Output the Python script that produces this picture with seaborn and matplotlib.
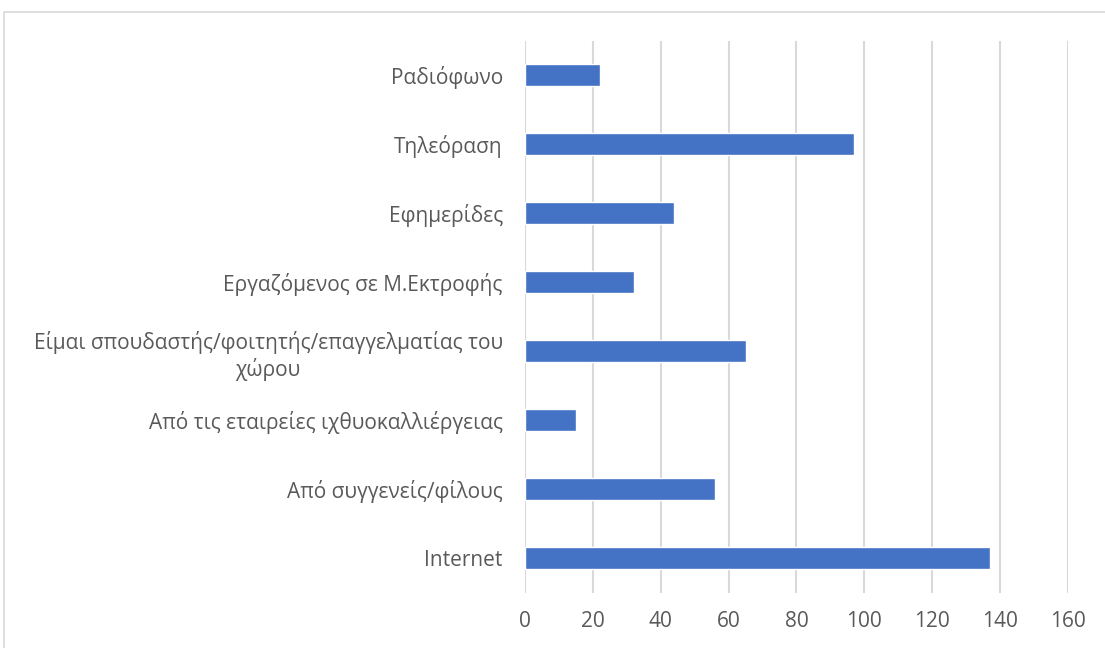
import matplotlib
matplotlib.use("Agg")
import matplotlib.pyplot as plt
import seaborn as sns
import pandas as pd
from matplotlib.patches import Rectangle

# Sources of information (top to bottom) and number of responses
sources = [
    "Ραδιόφωνο",
    "Τηλεόραση",
    "Εφημερίδες",
    "Εργαζόμενος σε Μ.Εκτροφής",
    "Είμαι σπουδαστής/φοιτητής/επαγγελματίας του\nχώρου",
    "Από τις εταιρείες ιχθυοκαλλιέργειας",
    "Από συγγενείς/φίλους",
    "Internet",
]
counts = [22, 97, 44, 32, 65, 15, 56, 137]
x_ticks = [0, 20, 40, 60, 80, 100, 120, 140, 160]

df = pd.DataFrame({"source": sources, "count": counts})

sns.set_theme(style="white")
plt.rcParams["font.family"] = ["Open Sans", "DejaVu Sans"]

fig = plt.figure(figsize=(11.05, 6.48), dpi=100)
ax = fig.add_axes([525 / 1105, 1 - 592.5 / 648, (1068 - 525) / 1105, (592.5 - 40.5) / 648])

sns.barplot(data=df, x="count", y="source", orient="h", color="#4472C4",
            width=0.31, saturation=1, ax=ax, zorder=3)

ax.set_xlim(0, 160)
ax.set_xticks(x_ticks)
ax.set_xlabel("")
ax.set_ylabel("")
ax.grid(axis="x", color="#D9D9D9", linewidth=1.5, zorder=0)
ax.grid(axis="y", visible=False)
for s in ax.spines.values():
    s.set_visible(False)
ax.tick_params(axis="both", length=0, labelsize=15, labelcolor="#595959")
ax.tick_params(axis="y", pad=16)
ax.tick_params(axis="x", pad=13)
for lbl in ax.get_yticklabels():
    lbl.set_multialignment("center")
    lbl.set_linespacing(1.25)

# Light chart-area border
fig.patches.append(Rectangle((4 / 1105, -0.1), 1.2, 1 - 11.5 / 648 + 0.1,
                             transform=fig.transFigure, fill=False,
                             edgecolor="#D9D9D9", linewidth=1.2))

fig.savefig("out.png", dpi=100)
